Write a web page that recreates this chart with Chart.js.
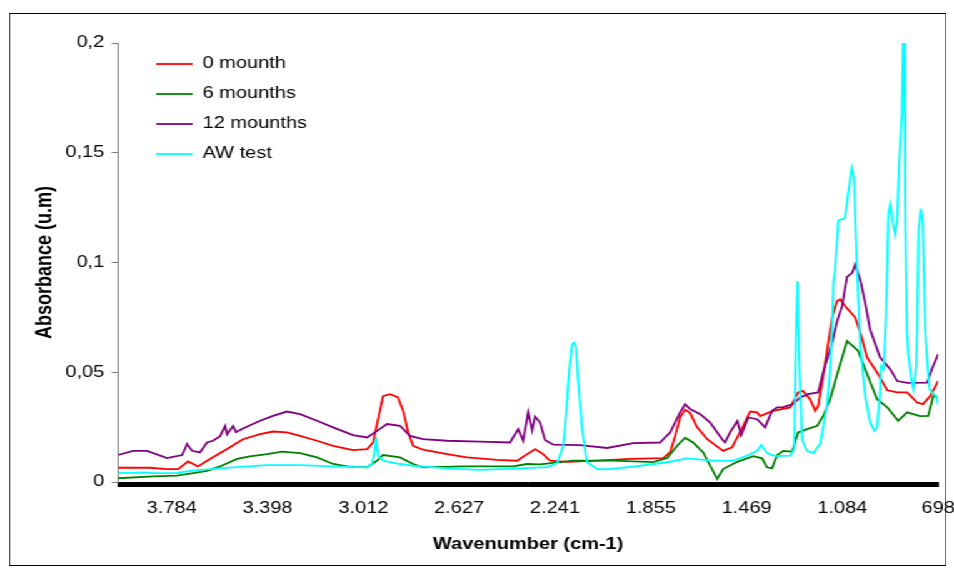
<!DOCTYPE html>
<html><head><meta charset="utf-8">
<script src="https://cdn.jsdelivr.net/npm/chart.js@4.4.1/dist/chart.umd.min.js"></script>
<style>
html,body{margin:0;padding:0;background:#fff;overflow:hidden;}
#wrap{position:absolute;left:0;top:0;width:763px;height:568px;transform:scaleX(1.25033);transform-origin:0 0;}
#frame{position:absolute;left:7px;top:13px;width:750px;height:553px;border:1px solid #000;box-sizing:border-box;pointer-events:none;}
#c{position:absolute;left:0;top:0;}
</style></head><body>
<div id="wrap"><canvas id="c" width="763" height="568"></canvas><div id="frame"></div></div>
<script>
const waveTicks = [3784, 3398, 3012, 2627, 2241, 1855, 1469, 1084, 698];
const waveTickLabels = ['3.784', '3.398', '3.012', '2.627', '2.241', '1.855', '1.469', '1.084', '698'];
const absTicks = [0, 0.05, 0.1, 0.15, 0.2];
const absTickLabels = ['0', '0,05', '0,1', '0,15', '0,2'];
const seriesNames = ['0 mounth', '6 mounths', '12 mounths', 'AW test'];
const seriesColors = ['#ff0000', '#008000', '#800080', '#00ffff'];

// [wavenumber cm-1, absorbance]
const month0 = [[4000,0.0065],[3871,0.0065],[3803,0.0059],[3758,0.0059],[3718,0.0094],[3678,0.0071],[3630,0.0105],[3561,0.0150],[3497,0.0195],[3428,0.0218],[3376,0.0230],[3320,0.0226],[3267,0.0210],[3199,0.0188],[3134,0.0165],[3054,0.0145],[2997,0.0150],[2973,0.0180],[2953,0.0286],[2933,0.0391],[2905,0.0400],[2873,0.0386],[2852,0.0324],[2832,0.0227],[2812,0.0165],[2772,0.0147],[2675,0.0127],[2595,0.0112],[2474,0.0101],[2393,0.0097],[2353,0.0127],[2321,0.0150],[2289,0.0127],[2261,0.0097],[2192,0.0092],[2071,0.0097],[1938,0.0105],[1805,0.0109],[1777,0.0136],[1757,0.0210],[1737,0.0295],[1717,0.0330],[1697,0.0314],[1669,0.0250],[1628,0.0195],[1564,0.0142],[1528,0.0158],[1483,0.0256],[1455,0.0321],[1427,0.0317],[1415,0.0300],[1363,0.0324],[1294,0.0340],[1262,0.0408],[1242,0.0415],[1214,0.0377],[1193,0.0324],[1181,0.0347],[1161,0.0483],[1125,0.0749],[1105,0.0824],[1093,0.0832],[1065,0.0791],[1032,0.0749],[1012,0.0682],[984,0.0568],[944,0.0499],[903,0.0418],[863,0.0408],[823,0.0408],[783,0.0362],[759,0.0355],[730,0.0392],[698,0.0460]];

const month6 = [[4000,0.0017],[3859,0.0026],[3763,0.0029],[3698,0.0040],[3642,0.0051],[3589,0.0071],[3521,0.0105],[3469,0.0117],[3400,0.0127],[3340,0.0138],[3267,0.0132],[3199,0.0112],[3134,0.0082],[3078,0.0071],[2997,0.0067],[2957,0.0097],[2933,0.0123],[2893,0.0117],[2865,0.0112],[2812,0.0082],[2772,0.0067],[2611,0.0071],[2410,0.0071],[2353,0.0082],[2301,0.0080],[2168,0.0097],[2007,0.0097],[1846,0.0091],[1789,0.0109],[1749,0.0165],[1717,0.0202],[1685,0.0180],[1644,0.0135],[1616,0.0074],[1588,0.0014],[1564,0.0059],[1507,0.0092],[1443,0.0118],[1407,0.0108],[1387,0.0067],[1367,0.0062],[1346,0.0123],[1322,0.0142],[1286,0.0138],[1262,0.0226],[1226,0.0241],[1185,0.0256],[1161,0.0301],[1133,0.0377],[1101,0.0505],[1065,0.0642],[1040,0.0618],[1020,0.0597],[984,0.0491],[944,0.0377],[903,0.0340],[859,0.0279],[823,0.0317],[771,0.0300],[738,0.0301],[718,0.0392],[698,0.0385]];

const month12 = [[4000,0.0123],[3940,0.0142],[3883,0.0142],[3803,0.0109],[3742,0.0123],[3722,0.0173],[3702,0.0142],[3670,0.0135],[3642,0.0180],[3618,0.0188],[3589,0.0209],[3569,0.0255],[3561,0.0218],[3537,0.0255],[3525,0.0227],[3497,0.0244],[3428,0.0279],[3376,0.0301],[3320,0.0321],[3267,0.0309],[3199,0.0279],[3134,0.0249],[3054,0.0214],[2997,0.0203],[2957,0.0233],[2917,0.0264],[2865,0.0256],[2824,0.0210],[2772,0.0195],[2675,0.0188],[2542,0.0184],[2422,0.0180],[2389,0.0241],[2369,0.0188],[2349,0.0317],[2333,0.0236],[2321,0.0298],[2301,0.0271],[2281,0.0191],[2248,0.0170],[2140,0.0168],[2031,0.0155],[1926,0.0177],[1818,0.0180],[1777,0.0226],[1737,0.0317],[1717,0.0355],[1697,0.0332],[1656,0.0309],[1616,0.0271],[1568,0.0195],[1556,0.0180],[1536,0.0226],[1507,0.0277],[1491,0.0214],[1463,0.0294],[1427,0.0286],[1395,0.0249],[1367,0.0324],[1346,0.0340],[1322,0.0341],[1282,0.0355],[1254,0.0385],[1222,0.0400],[1181,0.0408],[1161,0.0500],[1125,0.0635],[1105,0.0732],[1085,0.0801],[1065,0.0934],[1044,0.0953],[1032,0.0991],[1012,0.0923],[992,0.0817],[972,0.0695],[932,0.0568],[891,0.0514],[863,0.0460],[823,0.0452],[742,0.0453],[722,0.0518],[698,0.0582]];

const awTest = [[4000,0.0040],[3899,0.0044],[3859,0.0040],[3763,0.0041],[3710,0.0051],[3630,0.0059],[3537,0.0067],[3400,0.0077],[3267,0.0077],[3134,0.0071],[2997,0.0067],[2977,0.0082],[2969,0.0127],[2961,0.0203],[2953,0.0120],[2933,0.0097],[2865,0.0082],[2812,0.0074],[2675,0.0062],[2542,0.0055],[2410,0.0061],[2273,0.0068],[2232,0.0086],[2208,0.0165],[2196,0.0309],[2184,0.0505],[2172,0.0627],[2164,0.0635],[2156,0.0618],[2148,0.0468],[2132,0.0241],[2112,0.0090],[2071,0.0059],[2031,0.0058],[1898,0.0074],[1789,0.0090],[1709,0.0108],[1604,0.0097],[1524,0.0097],[1467,0.0120],[1427,0.0142],[1411,0.0168],[1387,0.0132],[1354,0.0118],[1294,0.0120],[1278,0.0150],[1270,0.0695],[1264,0.0915],[1258,0.0559],[1246,0.0191],[1226,0.0142],[1201,0.0132],[1173,0.0173],[1145,0.0355],[1133,0.0514],[1125,0.0709],[1120,0.0908],[1113,0.0968],[1100,0.1191],[1073,0.1203],[1059,0.1327],[1046,0.1428],[1036,0.1377],[1032,0.1210],[1026,0.1014],[1012,0.0627],[992,0.0392],[972,0.0271],[955,0.0233],[944,0.0250],[932,0.0400],[928,0.0529],[918,0.0514],[908,0.0756],[898,0.1226],[891,0.1264],[878,0.1165],[871,0.1127],[863,0.1195],[855,0.1453],[844,0.1680],[840,0.1999],[835,0.1999],[831,0.1301],[824,0.0695],[818,0.0577],[804,0.0453],[798,0.0423],[787,0.0514],[783,0.0695],[777,0.1141],[768,0.1245],[760,0.1180],[750,0.0695],[744,0.0582],[733,0.0423],[717,0.0400],[706,0.0392],[698,0.0355]];

const FONT = '"Liberation Sans", Arial, sans-serif';
const allSeries = [month0, month6, month12, awTest];

const datasets = allSeries.map((s, i) => ({
  label: seriesNames[i],
  data: s.map(p => ({x: p[0], y: p[1]})),
  borderColor: seriesColors[i],
  backgroundColor: seriesColors[i],
  borderWidth: 1.8,
  pointRadius: 0,
  tension: 0,
  fill: false,
  order: 3 - i
}));

// dense category tick marks along the x axis
const minorStep = (waveTicks[7] - waveTicks[8]) / 88;
function buildXTicks(scale) {
  const vals = waveTicks.slice();
  for (let v = waveTicks[8] + minorStep / 2; v < 4000; v += minorStep) vals.push(v);
  vals.sort((a, b) => b - a);
  scale.ticks = vals.map(v => ({value: v}));
}

const legendPlace = {
  id: 'legendPlace',
  afterLayout(chart) {
    const lg = chart.legend;
    if (!lg) return;
    lg.left = 111; lg.top = 42;
    lg.right = lg.left + 220; lg.bottom = lg.top + 160;
    lg.width = 220; lg.height = 160;
  }
};

new Chart(document.getElementById('c'), {
  type: 'line',
  data: {datasets},
  plugins: [legendPlace],
  options: {
    responsive: false,
    animation: false,
    normalized: true,
    layout: {padding: {left: 0, top: 43, right: 12.6, bottom: 10}},
    plugins: {
      legend: {
        position: 'chartArea', align: 'start', fullSize: false,
        labels: {
          usePointStyle: true, pointStyle: 'line', pointStyleWidth: 29,
          padding: 14, color: '#000', font: {family: FONT, size: 16},
          sort: (a, b) => a.datasetIndex - b.datasetIndex
        }
      },
      tooltip: {enabled: false}
    },
    scales: {
      x: {
        type: 'linear', reverse: true, min: 698, max: 4000,
        afterBuildTicks: buildXTicks,
        afterFit(scale) { scale.height = 76; scale.paddingLeft = 0; scale.paddingRight = 0; },
        grid: {display: true, drawOnChartArea: false, drawTicks: true, tickLength: 5, color: '#000', lineWidth: 1},
        border: {display: true, color: '#000', width: 1},
        ticks: {
          autoSkip: false, maxRotation: 0, minRotation: 0, padding: 12, color: '#000',
          font: {family: FONT, size: 16},
          callback: (v) => { const i = waveTicks.indexOf(v); return i >= 0 ? waveTickLabels[i] : ''; }
        },
        title: {display: true, text: 'Wavenumber (cm-1)', color: '#000',
          font: {family: FONT, size: 16, weight: 'bold'}, padding: {top: 0, bottom: 4}}
      },
      y: {
        type: 'linear', min: 0, max: 0.2,
        afterBuildTicks(scale) { scale.ticks = absTicks.map(v => ({value: v})); },
        afterFit(scale) { scale.width = 94.4; },
        grid: {drawOnChartArea: false, drawTicks: true, tickLength: 5, color: '#777'},
        border: {display: true, color: '#777', width: 1},
        ticks: {
          padding: 6, color: '#000', font: {family: FONT, size: 16},
          callback: (v) => { const i = absTicks.indexOf(v); return i >= 0 ? absTickLabels[i] : ''; }
        },
        title: {display: true, text: 'Absorbance (u.m)', color: '#000',
          font: {family: FONT, size: 18, weight: 'bold'}, padding: {top: 25, bottom: 0}}
      }
    }
  }
});
</script>
</body></html>
